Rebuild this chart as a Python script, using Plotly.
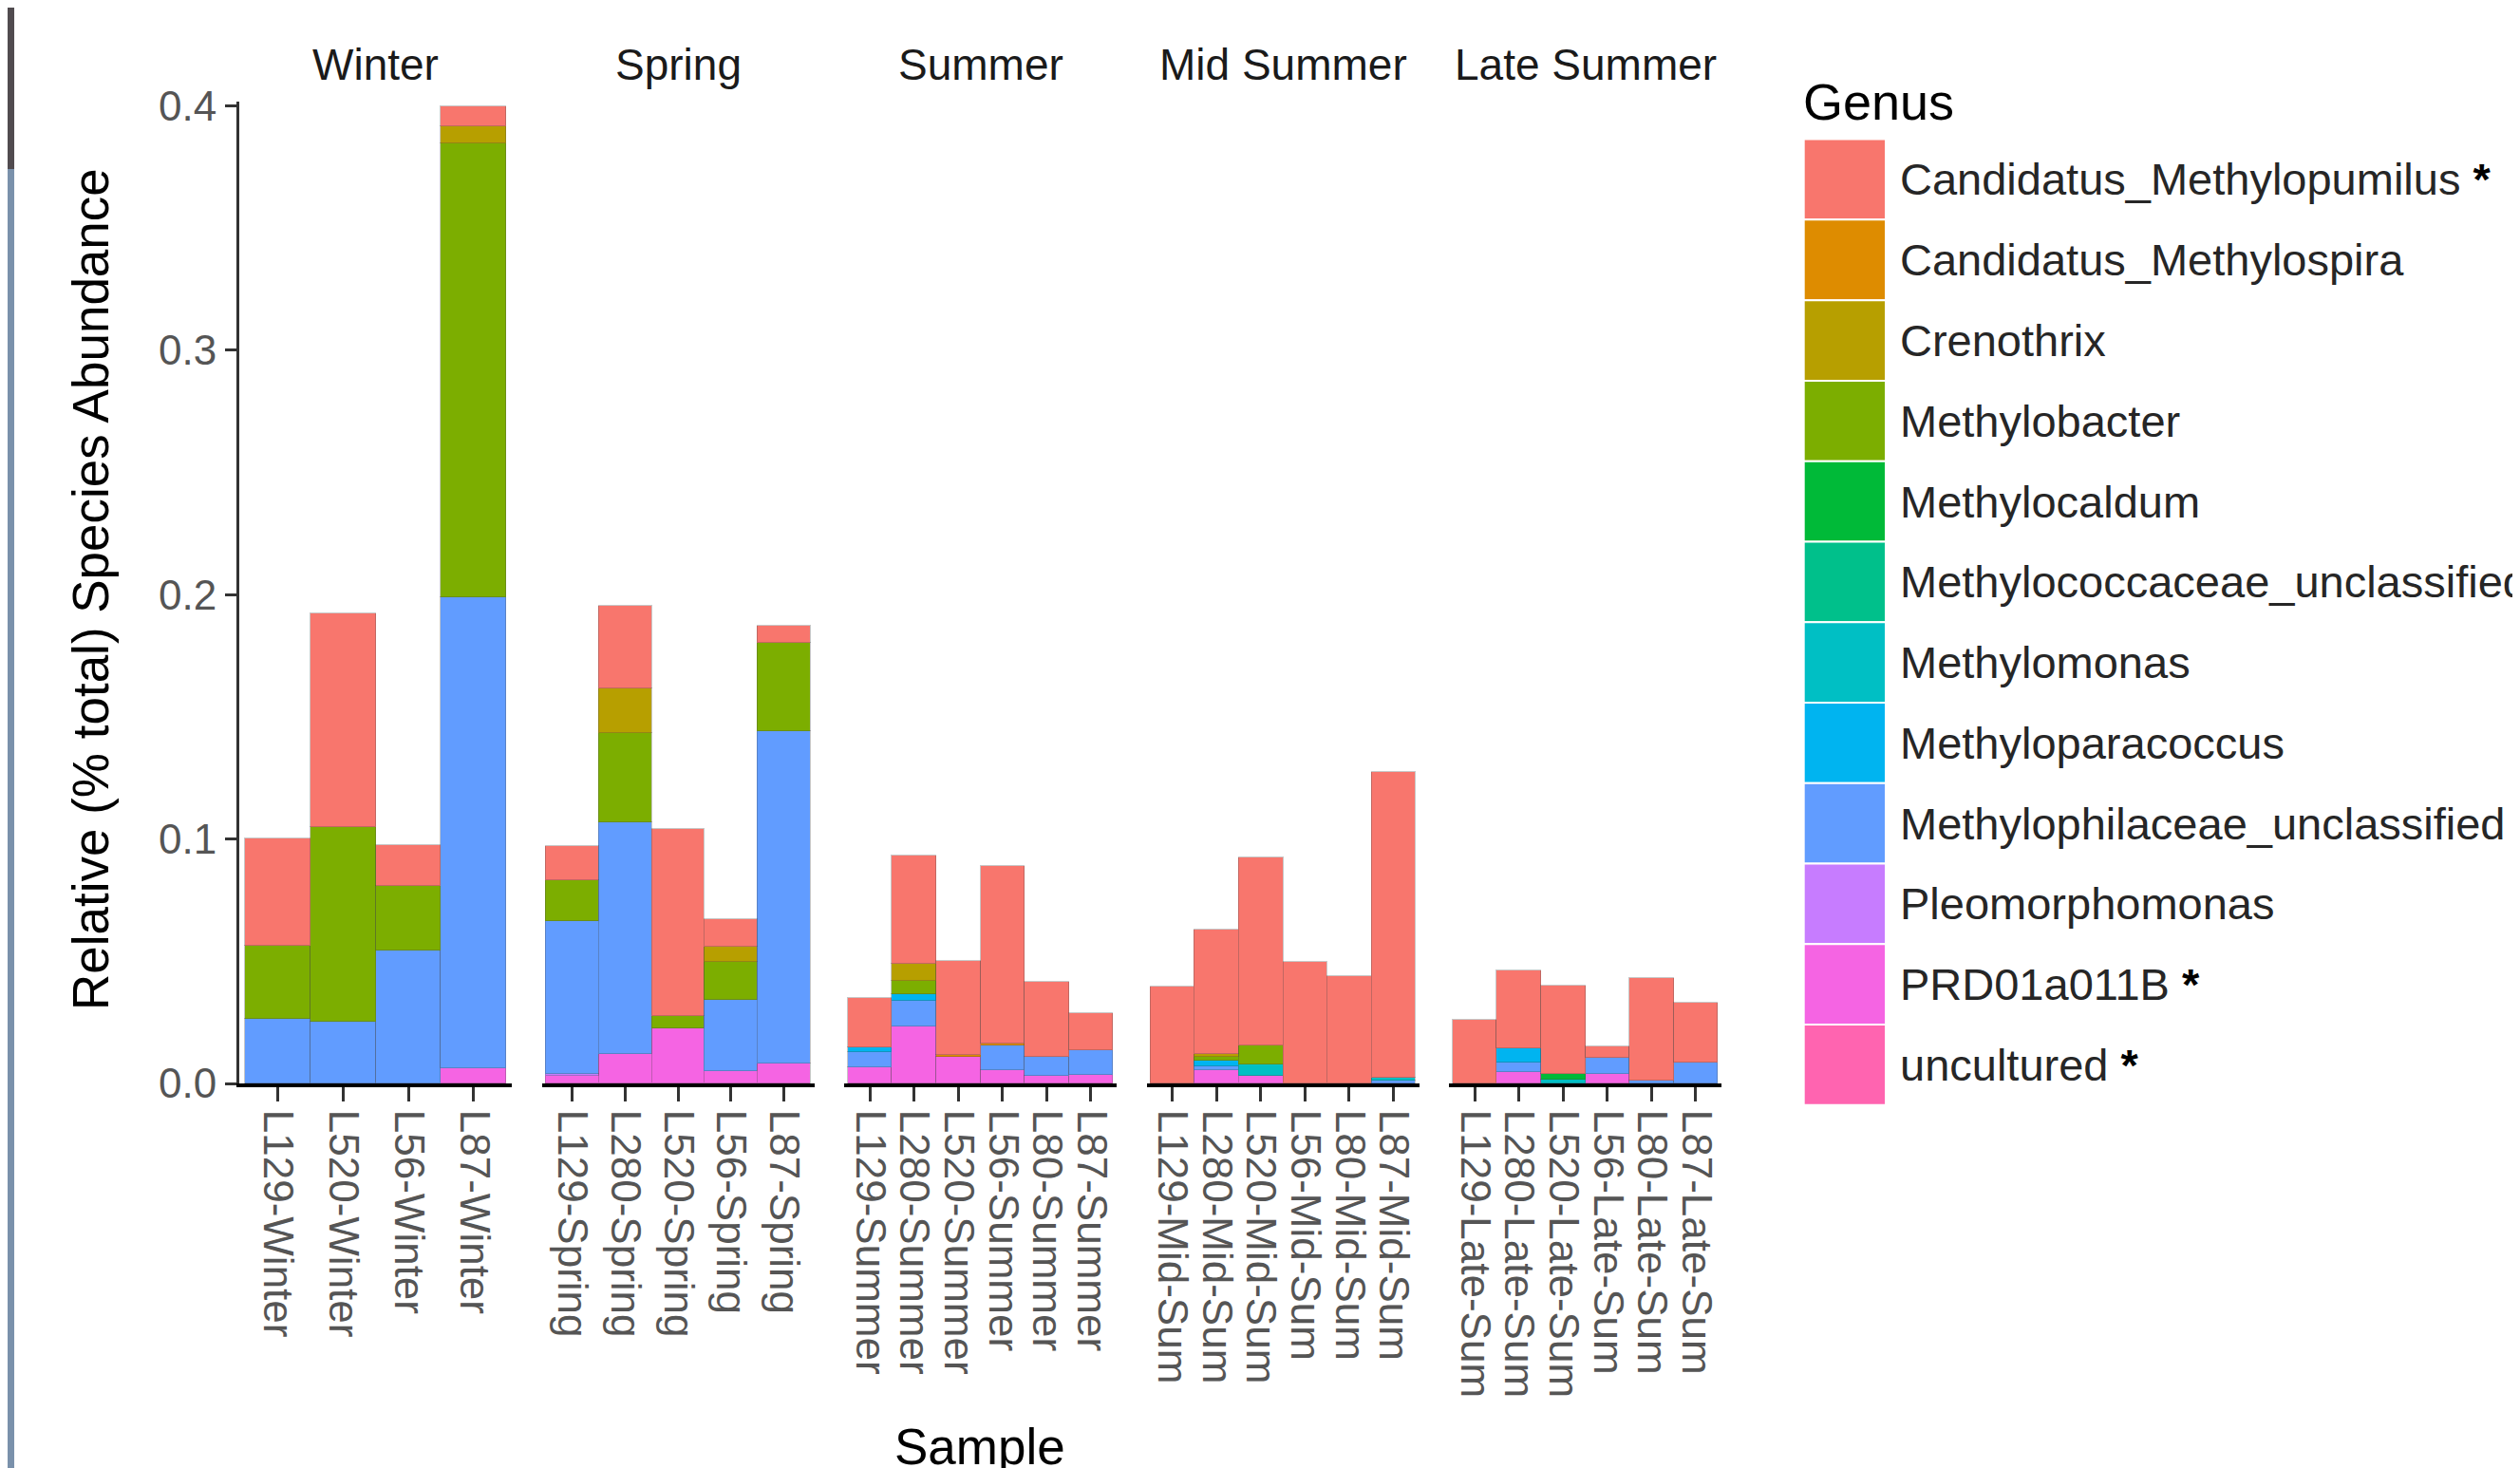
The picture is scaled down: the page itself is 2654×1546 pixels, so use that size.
import plotly.graph_objects as go

W, H = 2654, 1546
OFF = 8  # page body margin offset compensation

# ---------------- data ----------------
seasons = ["Winter", "Spring", "Summer", "Mid Summer", "Late Summer"]
season_sizes = [4, 5, 6, 6, 6]
samples = [
    "L129-Winter", "L520-Winter", "L56-Winter", "L87-Winter",
    "L129-Spring", "L280-Spring", "L520-Spring", "L56-Spring", "L87-Spring",
    "L129-Summer", "L280-Summer", "L520-Summer", "L56-Summer", "L80-Summer", "L87-Summer",
    "L129-Mid-Sum", "L280-Mid-Sum", "L520-Mid-Sum", "L56-Mid-Sum", "L80-Mid-Sum", "L87-Mid-Sum",
    "L129-Late-Sum", "L280-Late-Sum", "L520-Late-Sum", "L56-Late-Sum", "L80-Late-Sum", "L87-Late-Sum",
]

genus = [
    "Candidatus_Methylopumilus", "Candidatus_Methylospira", "Crenothrix", "Methylobacter",
    "Methylocaldum", "Methylococcaceae_unclassified", "Methylomonas", "Methyloparacoccus",
    "Methylophilaceae_unclassified", "Pleomorphomonas", "PRD01a011B", "uncultured",
]
genus_colors = ["#F8766D", "#DE8C00", "#B79F00", "#7CAE00", "#00BA38", "#00C08B",
                "#00BFC4", "#00B4F0", "#619CFF", "#C77CFF", "#F564E3", "#FF64B0"]
starred = ["Candidatus_Methylopumilus", "Methylophilaceae_unclassified", "PRD01a011B", "uncultured"]

candidatus_methylopumilus = [0.0438, 0.0875, 0.0167, 0.0079,
                             0.0139, 0.0340, 0.0767, 0.0115, 0.0072,
                             0.0200, 0.0443, 0.0386, 0.0724, 0.0306, 0.0150,
                             0.0398, 0.0508, 0.0771, 0.0496, 0.0440, 0.1250,
                             0.0259, 0.0317, 0.0364, 0.0045, 0.0421, 0.0247]
candidatus_methylospira = [0, 0, 0, 0,
                           0, 0, 0, 0, 0,
                           0, 0, 0.0010, 0.0010, 0, 0,
                           0, 0, 0, 0, 0, 0,
                           0, 0, 0, 0, 0, 0]
crenothrix = [0, 0, 0, 0.0072,
              0, 0.0183, 0, 0.0062, 0,
              0, 0.0071, 0, 0, 0, 0,
              0, 0.0010, 0, 0, 0, 0,
              0, 0, 0, 0, 0, 0]
methylobacter = [0.0300, 0.0796, 0.0265, 0.1857,
                 0.0165, 0.0364, 0.0051, 0.0154, 0.0362,
                 0, 0.0051, 0, 0, 0, 0,
                 0, 0.0015, 0.0077, 0, 0, 0,
                 0, 0, 0, 0, 0, 0]
methylocaldum = [0, 0, 0, 0,
                 0, 0, 0, 0, 0,
                 0, 0, 0, 0, 0, 0,
                 0, 0, 0, 0, 0, 0,
                 0, 0, 0.0023, 0, 0, 0]
methylococcaceae_unclassified = [0, 0, 0, 0,
                                 0, 0, 0, 0, 0,
                                 0, 0, 0, 0, 0, 0,
                                 0, 0, 0, 0, 0, 0,
                                 0, 0, 0, 0, 0, 0]
methylomonas = [0, 0, 0, 0,
                0, 0, 0, 0, 0,
                0, 0, 0, 0, 0, 0,
                0, 0, 0.0046, 0, 0, 0.0010,
                0, 0, 0.0015, 0, 0, 0]
methyloparacoccus = [0, 0, 0, 0,
                     0, 0, 0, 0, 0,
                     0.0020, 0.0030, 0, 0, 0, 0,
                     0, 0.0025, 0, 0, 0, 0,
                     0, 0.0058, 0, 0, 0, 0]
methylophilaceae_unclassified = [0.0265, 0.0252, 0.0544, 0.1928,
                                 0.0626, 0.0948, 0, 0.0291, 0.1358,
                                 0.0063, 0.0103, 0, 0.0099, 0.0080, 0.0102,
                                 0, 0.0015, 0, 0, 0, 0.0013,
                                 0, 0.0040, 0, 0.0065, 0.0010, 0.0085]
pleomorphomonas = [0, 0, 0, 0,
                   0.0010, 0, 0, 0, 0,
                   0, 0, 0, 0, 0, 0,
                   0, 0, 0, 0, 0, 0,
                   0, 0, 0, 0, 0, 0]
prd01a011b = [0, 0, 0, 0.0061,
              0.0030, 0.0121, 0.0225, 0.0051, 0.0082,
              0.0066, 0.0234, 0.0107, 0.0056, 0.0030, 0.0034,
              0, 0.0055, 0.0032, 0, 0, 0,
              0, 0.0046, 0, 0.0040, 0, 0]
uncultured = [0, 0, 0, 0,
              0, 0, 0, 0, 0,
              0, 0, 0, 0, 0, 0,
              0, 0, 0, 0, 0, 0,
              0, 0, 0, 0, 0, 0]

y_ticks = [0.0, 0.1, 0.2, 0.3, 0.4]
y_tick_labels = ["0.0", "0.1", "0.2", "0.3", "0.4"]

genus_values = {
    "Candidatus_Methylopumilus": candidatus_methylopumilus,
    "Candidatus_Methylospira": candidatus_methylospira,
    "Crenothrix": crenothrix,
    "Methylobacter": methylobacter,
    "Methylocaldum": methylocaldum,
    "Methylococcaceae_unclassified": methylococcaceae_unclassified,
    "Methylomonas": methylomonas,
    "Methyloparacoccus": methyloparacoccus,
    "Methylophilaceae_unclassified": methylophilaceae_unclassified,
    "Pleomorphomonas": pleomorphomonas,
    "PRD01a011B": prd01a011b,
    "uncultured": uncultured,
}

# ---------------- layout helpers ----------------
def fx(px):
    return (px - OFF) / W

def fy(px):
    return 1 - (px - OFF) / H

panel_left = [252, 570.5, 889, 1207.5, 1526]
panel_width = 287
plot_top, plot_bottom = 107, 1141
FONT = "Liberation Sans, Arial, sans-serif"

fig = go.Figure()

starts = [sum(season_sizes[:i]) for i in range(len(season_sizes))]
for g, col in reversed(list(zip(genus, genus_colors))):
    vals = genus_values[g]
    for i, (st, n) in enumerate(zip(starts, season_sizes)):
        fig.add_trace(go.Bar(
            x=samples[st:st + n], y=vals[st:st + n], name=g,
            marker=dict(color=col, line=dict(color="rgba(70,70,70,0.3)", width=1)),
            xaxis="x" if i == 0 else f"x{i + 1}", yaxis="y",
            showlegend=False,
        ))

layout = dict(
    width=W, height=H, autosize=False,
    margin=dict(l=0, r=0, t=0, b=0, pad=0, autoexpand=False),
    paper_bgcolor="white", plot_bgcolor="white",
    barmode="stack", bargap=0, showlegend=False,
    font=dict(family=FONT),
)
for i, n in enumerate(season_sizes):
    key = "xaxis" if i == 0 else f"xaxis{i + 1}"
    st = starts[i]
    layout[key] = dict(
        domain=[fx(panel_left[i]), fx(panel_left[i] + panel_width)],
        anchor="y", type="category", automargin=False,
        range=[-0.58, n - 0.42],
        tickmode="array", tickvals=samples[st:st + n], ticktext=samples[st:st + n],
        showline=True, linecolor="black", linewidth=4,
        ticks="outside", ticklen=15, tickwidth=3, tickcolor="#333",
        tickangle=90,
        tickfont=dict(family=FONT, size=44, color="#555"),
        showgrid=False, zeroline=False, fixedrange=True,
    )
top_val = 0.4 * (plot_bottom - plot_top) / (plot_bottom - 111.4)
layout["yaxis"] = dict(
    domain=[fy(plot_bottom), fy(plot_top)], anchor="x", automargin=False,
    range=[0, top_val],
    tickmode="array", tickvals=y_ticks, ticktext=y_tick_labels,
    showline=True, linecolor="#333", linewidth=3,
    ticks="outside", ticklen=12, tickwidth=3, tickcolor="#333",
    tickfont=dict(family=FONT, size=44, color="#555"),
    showgrid=False, zeroline=False, fixedrange=True,
)
fig.update_layout(**layout)

annotations = []
# facet strip labels
for i, s in enumerate(seasons):
    annotations.append(dict(
        x=fx(panel_left[i] + panel_width / 2), y=fy(68), xref="paper", yref="paper",
        text=s, showarrow=False, xanchor="center", yanchor="middle",
        font=dict(family=FONT, size=46, color="#1a1a1a"),
    ))
# axis titles
annotations.append(dict(
    x=fx(96), y=fy(621), xref="paper", yref="paper", text="Relative (% total) Species Abundance",
    textangle=-90, showarrow=False, xanchor="center", yanchor="middle",
    font=dict(family=FONT, size=53, color="black"),
))
annotations.append(dict(
    x=fx(1032), y=fy(1492), xref="paper", yref="paper", text="Sample",
    showarrow=False, xanchor="center", yanchor="top",
    font=dict(family=FONT, size=53, color="black"),
))
# legend (drawn manually to match the large ggplot keys)
annotations.append(dict(
    x=fx(1897), y=fy(107), xref="paper", yref="paper", text="Genus",
    showarrow=False, xanchor="left", yanchor="middle",
    font=dict(family=FONT, size=54, color="black"),
))
shapes = []
key_top, key_h = 146.6, 84.77
for k, (g, col) in enumerate(zip(genus, genus_colors)):
    y0 = key_top + k * key_h
    shapes.append(dict(
        type="rect", xref="paper", yref="paper",
        x0=fx(1899.7), x1=fx(1986), y0=fy(y0 + key_h), y1=fy(y0),
        fillcolor=col, line=dict(color="white", width=2),
    ))
    label = g
    if g in starred:
        label = g + " <span style='color:black'><b>*</b></span>"
    annotations.append(dict(
        x=fx(1999), y=fy(y0 + key_h / 2), xref="paper", yref="paper", text=label,
        showarrow=False, xanchor="left", yanchor="middle",
        font=dict(family=FONT, size=47, color="#262626"),
    ))
# slide background strip at the left edge
shapes.append(dict(type="rect", xref="paper", yref="paper", x0=fx(-20), x1=fx(15), y0=fy(1600), y1=fy(-20),
                   fillcolor="#7a91ab", line=dict(width=0), layer="below"))
shapes.append(dict(type="rect", xref="paper", yref="paper", x0=fx(-20), x1=fx(15), y0=fy(178), y1=fy(-20),
                   fillcolor="#514b4f", line=dict(width=0), layer="below"))

fig.update_layout(annotations=annotations, shapes=shapes)
fig.write_html("out.html")
